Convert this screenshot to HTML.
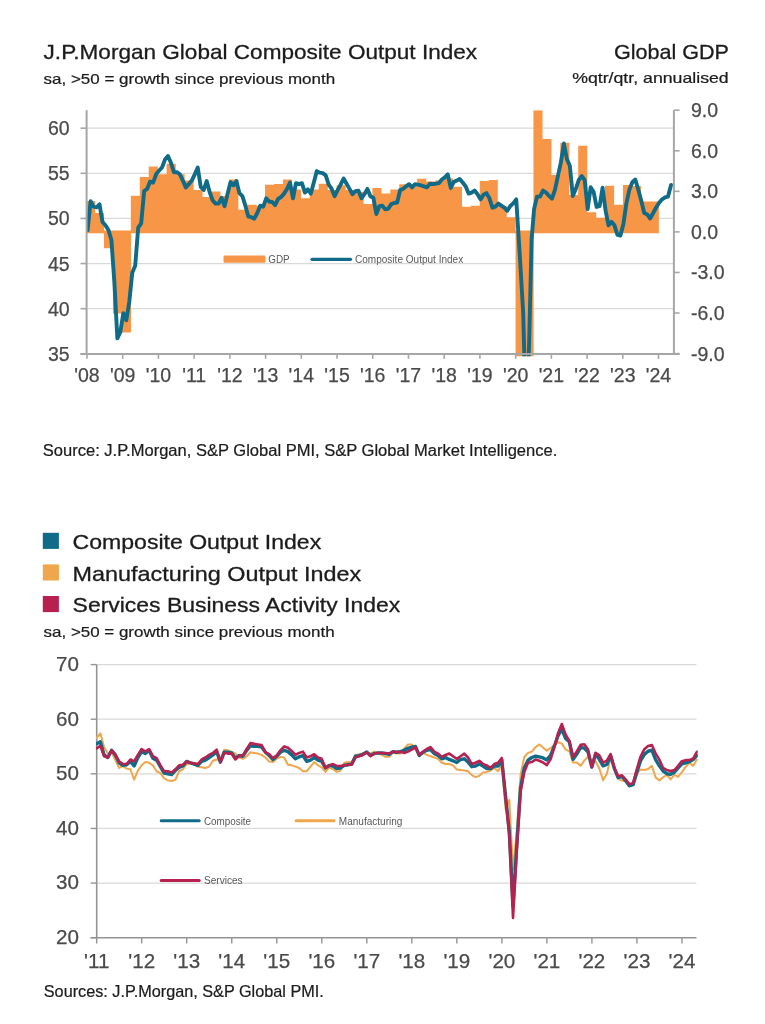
<!DOCTYPE html>
<html><head><meta charset="utf-8"><title>J.P.Morgan Global Composite Output Index</title>
<style>
html,body{margin:0;padding:0;background:#fff;}
body{width:765px;height:1024px;overflow:hidden;}
svg{display:block;filter:blur(0.4px);font-family:"Liberation Sans",Arial,sans-serif;}
</style></head><body>
<svg width="765" height="1024" viewBox="0 0 765 1024">
<rect width="765" height="1024" fill="#fff"/>
<text x="43.6" y="59.2" font-size="21" fill="#1c1c1c" text-anchor="start" textLength="433.5" lengthAdjust="spacingAndGlyphs" stroke="#1c1c1c" stroke-width="0.3">J.P.Morgan Global Composite Output Index</text>
<text x="43.6" y="83.6" font-size="15" fill="#1c1c1c" text-anchor="start" textLength="291.5" lengthAdjust="spacingAndGlyphs" stroke="#1c1c1c" stroke-width="0.22">sa, &gt;50 = growth since previous month</text>
<text x="613.9" y="59.2" font-size="21" fill="#1c1c1c" text-anchor="start" textLength="115" lengthAdjust="spacingAndGlyphs" stroke="#1c1c1c" stroke-width="0.3">Global GDP</text>
<text x="572.2" y="83.4" font-size="15" fill="#1c1c1c" text-anchor="start" textLength="156.5" lengthAdjust="spacingAndGlyphs" stroke="#1c1c1c" stroke-width="0.22">%qtr/qtr, annualised</text>
<text x="42.8" y="455.9" font-size="15.8" fill="#1c1c1c" text-anchor="start" textLength="514.5" lengthAdjust="spacingAndGlyphs" stroke="#1c1c1c" stroke-width="0.22">Source: J.P.Morgan, S&amp;P Global PMI, S&amp;P Global Market Intelligence.</text>
<rect x="42.8" y="532.8" width="16.1" height="16.1" fill="#0f6b88"/>
<text x="72.6" y="549.2" font-size="20.4" fill="#1c1c1c" text-anchor="start" textLength="248.6" lengthAdjust="spacingAndGlyphs" stroke="#1c1c1c" stroke-width="0.3">Composite Output Index</text>
<rect x="42.8" y="564.4" width="16.1" height="16.1" fill="#f0a64a"/>
<text x="72.6" y="580.7" font-size="20.4" fill="#1c1c1c" text-anchor="start" textLength="288.6" lengthAdjust="spacingAndGlyphs" stroke="#1c1c1c" stroke-width="0.3">Manufacturing Output Index</text>
<rect x="42.8" y="596" width="16.1" height="16.1" fill="#b8204f"/>
<text x="72.6" y="612.2" font-size="20.4" fill="#1c1c1c" text-anchor="start" textLength="327.6" lengthAdjust="spacingAndGlyphs" stroke="#1c1c1c" stroke-width="0.3">Services Business Activity Index</text>
<text x="43.6" y="636.6" font-size="15" fill="#1c1c1c" text-anchor="start" textLength="291" lengthAdjust="spacingAndGlyphs" stroke="#1c1c1c" stroke-width="0.22">sa, &gt;50 = growth since previous month</text>
<text x="43.8" y="996.6" font-size="16.1" fill="#1c1c1c" text-anchor="start" textLength="280" lengthAdjust="spacingAndGlyphs" stroke="#1c1c1c" stroke-width="0.22">Sources: J.P.Morgan, S&amp;P Global PMI.</text>
<defs><clipPath id="ct"><rect x="86.6" y="110.2" width="587.3" height="246"/></clipPath>
<clipPath id="cb"><rect x="96" y="662.6" width="601.8" height="275.1"/></clipPath></defs>
<line x1="86.6" y1="128.2" x2="673.9" y2="128.2" stroke="#d9d9d9" stroke-width="1.3"/>
<line x1="86.6" y1="173.32" x2="673.9" y2="173.32" stroke="#d9d9d9" stroke-width="1.3"/>
<line x1="86.6" y1="218.44" x2="673.9" y2="218.44" stroke="#d9d9d9" stroke-width="1.3"/>
<line x1="86.6" y1="263.56" x2="673.9" y2="263.56" stroke="#d9d9d9" stroke-width="1.3"/>
<line x1="86.6" y1="308.68" x2="673.9" y2="308.68" stroke="#d9d9d9" stroke-width="1.3"/>
<g clip-path="url(#ct)"><path d="M86.1 201.1H95.2V233.3H86.1ZM95.05 212.9H104.14V233.3H95.05ZM103.99 230.6H113.09V248.3H103.99ZM112.94 230.6H122.04V313.6H112.94ZM121.89 230.6H130.98V332.4H121.89ZM130.83 195.7H139.93V233.3H130.83ZM139.78 176.9H148.88V233.3H139.78ZM148.73 166.4H157.83V233.3H148.73ZM157.68 174.3H166.77V233.3H157.68ZM166.62 163.8H175.72V233.3H166.62ZM175.57 174.3H184.67V233.3H175.57ZM184.52 180.6H193.61V233.3H184.52ZM193.46 190H202.56V233.3H193.46ZM202.41 197H211.51V233.3H202.41ZM211.36 191.5H220.45V233.3H211.36ZM220.3 196H229.4V233.3H220.3ZM229.25 179.5H238.35V233.3H229.25ZM238.2 209.8H247.3V233.3H238.2ZM247.15 204.8H256.24V233.3H247.15ZM256.09 205.6H265.19V233.3H256.09ZM265.04 184.7H274.14V233.3H265.04ZM273.99 183.9H283.08V233.3H273.99ZM282.93 179.5H292.03V233.3H282.93ZM291.88 189.4H300.98V233.3H291.88ZM300.83 198.3H309.92V233.3H300.83ZM309.77 189.4H318.87V233.3H309.77ZM318.72 183.7H327.82V233.3H318.72ZM327.67 190H336.77V233.3H327.67ZM336.62 185.3H345.71V233.3H336.62ZM345.56 190H354.66V233.3H345.56ZM354.51 192H363.61V233.3H354.51ZM363.46 204.1H372.55V233.3H363.46ZM372.4 187.9H381.5V233.3H372.4ZM381.35 193.6H390.45V233.3H381.35ZM390.3 189.4H399.39V233.3H390.3ZM399.25 184.2H408.34V233.3H399.25ZM408.19 184.7H417.29V233.3H408.19ZM417.14 178.7H426.24V233.3H417.14ZM426.09 181.6H435.18V233.3H426.09ZM435.03 180.6H444.13V233.3H435.03ZM443.98 178.5H453.08V233.3H443.98ZM452.93 186.8H462.02V233.3H452.93ZM461.87 206.7H470.97V233.3H461.87ZM470.82 205.7H479.92V233.3H470.82ZM479.77 181.1H488.86V233.3H479.77ZM488.71 180H497.81V233.3H488.71ZM497.66 206H506.76V233.3H497.66ZM506.61 217.2H515.71V233.3H506.61ZM515.56 230.6H524.65V360H515.56ZM524.5 230.6H533.6V360H524.5ZM533.45 110.2H542.55V233.3H533.45ZM542.4 138.9H551.49V233.3H542.4ZM551.34 175.1H560.44V233.3H551.34ZM560.29 142.8H569.39V233.3H560.29ZM569.24 195H578.33V233.3H569.24ZM578.18 145.8H587.28V233.3H578.18ZM587.13 212.3H596.23V233.3H587.13ZM596.08 217.8H605.18V233.3H596.08ZM605.03 185.7H614.12V233.3H605.03ZM613.97 204.8H623.07V233.3H613.97ZM622.92 185H632.02V233.3H622.92ZM631.87 186H640.96V233.3H631.87ZM640.81 201.4H649.91V233.3H640.81ZM649.76 201.4H658.86V233.3H649.76Z" fill="#f79646"/>
<polyline points="87.6,230.2 90.58,201.1 93.55,206.7 96.53,207.3 99.51,204.4 102.48,222 105.46,225.3 108.44,230 111.41,240 114.39,282.5 117.37,338.3 120.34,332 123.32,313.1 126.3,320.3 129.27,302 132.25,272.7 135.23,265.4 138.2,227.6 141.18,223.4 144.16,191 147.13,188.9 150.11,181.6 153.09,182.6 156.06,174.3 159.04,170.6 162.02,167.5 164.99,159.6 167.97,156 170.95,162.8 173.92,172.2 176.9,172.2 179.88,174.3 182.85,180.6 185.83,187.4 188.81,184.2 191.78,180.6 194.76,174.3 197.74,167.5 200.71,186.8 203.69,190 206.67,181 209.64,192 212.62,200.4 215.6,203.6 218.57,203.6 221.55,197.8 224.53,206.2 227.5,194.2 230.48,182.1 233.46,185.3 236.43,181.1 239.41,193.1 242.39,196.2 245.36,205.7 248.34,216.6 251.32,217.2 254.29,218.7 257.27,213 260.25,205.7 263.22,206.7 266.2,198.3 269.18,201.5 272.15,202 275.13,205.1 278.11,198.9 281.08,197 284.06,193.6 287.04,188.9 290.01,182.6 292.99,198.3 295.97,183.2 298.94,184.2 301.92,183.2 304.9,192.6 307.87,189.4 310.85,193.6 313.83,182.6 316.8,171.1 319.78,172.7 322.76,173.2 325.73,175.3 328.71,184.7 331.69,188.9 334.66,196.2 337.64,190 340.62,184.7 343.59,178.5 346.57,183.7 349.55,188.9 352.52,194.2 355.5,191.2 358.48,190.7 361.45,198.3 364.43,194.2 367.41,188.9 370.38,196.2 373.36,197.8 376.34,214 379.31,206.2 382.29,205.7 385.27,209.3 388.24,208.8 391.22,204.1 394.2,203 397.17,202.5 400.15,190 403.13,188.9 406.1,186.3 409.08,184.2 412.06,187.4 415.03,184.2 418.01,184.7 420.99,185.3 423.96,186.3 426.94,187.4 429.92,183.7 432.89,184 435.87,183.7 438.85,183.2 441.82,179.5 444.8,177.4 447.78,174.3 450.75,187.9 453.73,182.1 456.71,180.6 459.68,179 462.66,182.6 465.64,186.3 468.61,193.6 471.59,192.6 474.57,190.5 477.54,194.2 480.52,199.4 483.5,194.7 486.47,193.1 489.45,198.3 492.43,207.7 495.4,206.7 498.38,203.6 501.36,205.7 504.33,207.7 507.31,210.8 510.29,206 513.26,203.4 516.24,199.3 519.72,254 523.19,313 526.37,433 529.15,342 531.62,239 534.1,208.9 537.08,196.6 540.05,196.6 543.03,190.5 546.01,192.5 548.98,195.9 551.96,198.7 554.94,189.8 557.91,176.1 560.89,162.4 563.87,143.5 566.84,159 569.82,165.8 572.8,196 575.77,189 578.75,180 581.73,176.1 584.7,180 587.68,209 590.66,187.2 593.63,192 596.61,206.9 599.59,206.2 602.56,187.7 605.54,210.3 608.52,225.3 611.49,221.9 614.47,225.3 617.45,234.9 620.42,235.6 623.4,223.9 626.38,203.4 629.35,189.8 632.33,182.2 635.31,179.5 638.28,189.8 641.26,200.7 644.24,213 647.21,214.4 650.19,218.5 653.17,213 656.14,207.5 659.12,202.8 662.1,199.3 665.07,197.3 668.05,196.6 671.03,185" fill="none" stroke="#0f6b88" stroke-width="3.9" stroke-linejoin="round" stroke-linecap="round"/></g>
<line x1="86.6" y1="110.2" x2="86.6" y2="353.9" stroke="#a6a6a6" stroke-width="2"/>
<line x1="673.9" y1="110.2" x2="673.9" y2="353.9" stroke="#a6a6a6" stroke-width="2"/>
<line x1="80.5" y1="353.9" x2="679.6" y2="353.9" stroke="#a6a6a6" stroke-width="2"/>
<line x1="80.5" y1="128.2" x2="86.6" y2="128.2" stroke="#a6a6a6" stroke-width="1.6"/>
<text x="69.6" y="135.2" font-size="19.5" fill="#4a4a4a" text-anchor="end" stroke="#4a4a4a" stroke-width="0.25">60</text>
<line x1="80.5" y1="173.32" x2="86.6" y2="173.32" stroke="#a6a6a6" stroke-width="1.6"/>
<text x="69.6" y="180.32" font-size="19.5" fill="#4a4a4a" text-anchor="end" stroke="#4a4a4a" stroke-width="0.25">55</text>
<line x1="80.5" y1="218.44" x2="86.6" y2="218.44" stroke="#a6a6a6" stroke-width="1.6"/>
<text x="69.6" y="225.44" font-size="19.5" fill="#4a4a4a" text-anchor="end" stroke="#4a4a4a" stroke-width="0.25">50</text>
<line x1="80.5" y1="263.56" x2="86.6" y2="263.56" stroke="#a6a6a6" stroke-width="1.6"/>
<text x="69.6" y="270.56" font-size="19.5" fill="#4a4a4a" text-anchor="end" stroke="#4a4a4a" stroke-width="0.25">45</text>
<line x1="80.5" y1="308.68" x2="86.6" y2="308.68" stroke="#a6a6a6" stroke-width="1.6"/>
<text x="69.6" y="315.68" font-size="19.5" fill="#4a4a4a" text-anchor="end" stroke="#4a4a4a" stroke-width="0.25">40</text>
<line x1="80.5" y1="353.8" x2="86.6" y2="353.8" stroke="#a6a6a6" stroke-width="1.6"/>
<text x="69.6" y="360.8" font-size="19.5" fill="#4a4a4a" text-anchor="end" stroke="#4a4a4a" stroke-width="0.25">35</text>
<line x1="673.9" y1="110.22" x2="679.6" y2="110.22" stroke="#a6a6a6" stroke-width="1.6"/>
<text x="691" y="117.22" font-size="19.5" fill="#4a4a4a" text-anchor="start" stroke="#4a4a4a" stroke-width="0.25">9.0</text>
<line x1="673.9" y1="150.78" x2="679.6" y2="150.78" stroke="#a6a6a6" stroke-width="1.6"/>
<text x="691" y="157.78" font-size="19.5" fill="#4a4a4a" text-anchor="start" stroke="#4a4a4a" stroke-width="0.25">6.0</text>
<line x1="673.9" y1="191.34" x2="679.6" y2="191.34" stroke="#a6a6a6" stroke-width="1.6"/>
<text x="691" y="198.34" font-size="19.5" fill="#4a4a4a" text-anchor="start" stroke="#4a4a4a" stroke-width="0.25">3.0</text>
<line x1="673.9" y1="231.9" x2="679.6" y2="231.9" stroke="#a6a6a6" stroke-width="1.6"/>
<text x="691" y="238.9" font-size="19.5" fill="#4a4a4a" text-anchor="start" stroke="#4a4a4a" stroke-width="0.25">0.0</text>
<line x1="673.9" y1="272.46" x2="679.6" y2="272.46" stroke="#a6a6a6" stroke-width="1.6"/>
<text x="691" y="279.46" font-size="19.5" fill="#4a4a4a" text-anchor="start" stroke="#4a4a4a" stroke-width="0.25">-3.0</text>
<line x1="673.9" y1="313.02" x2="679.6" y2="313.02" stroke="#a6a6a6" stroke-width="1.6"/>
<text x="691" y="320.02" font-size="19.5" fill="#4a4a4a" text-anchor="start" stroke="#4a4a4a" stroke-width="0.25">-6.0</text>
<line x1="673.9" y1="353.58" x2="679.6" y2="353.58" stroke="#a6a6a6" stroke-width="1.6"/>
<text x="691" y="360.58" font-size="19.5" fill="#4a4a4a" text-anchor="start" stroke="#4a4a4a" stroke-width="0.25">-9.0</text>
<line x1="87" y1="353.9" x2="87" y2="358.8" stroke="#a6a6a6" stroke-width="1.6"/>
<text x="87" y="381.5" font-size="19.5" fill="#4a4a4a" text-anchor="middle" stroke="#4a4a4a" stroke-width="0.25">'08</text>
<line x1="122.72" y1="353.9" x2="122.72" y2="358.8" stroke="#a6a6a6" stroke-width="1.6"/>
<text x="122.72" y="381.5" font-size="19.5" fill="#4a4a4a" text-anchor="middle" stroke="#4a4a4a" stroke-width="0.25">'09</text>
<line x1="158.44" y1="353.9" x2="158.44" y2="358.8" stroke="#a6a6a6" stroke-width="1.6"/>
<text x="158.44" y="381.5" font-size="19.5" fill="#4a4a4a" text-anchor="middle" stroke="#4a4a4a" stroke-width="0.25">'10</text>
<line x1="194.16" y1="353.9" x2="194.16" y2="358.8" stroke="#a6a6a6" stroke-width="1.6"/>
<text x="194.16" y="381.5" font-size="19.5" fill="#4a4a4a" text-anchor="middle" stroke="#4a4a4a" stroke-width="0.25">'11</text>
<line x1="229.88" y1="353.9" x2="229.88" y2="358.8" stroke="#a6a6a6" stroke-width="1.6"/>
<text x="229.88" y="381.5" font-size="19.5" fill="#4a4a4a" text-anchor="middle" stroke="#4a4a4a" stroke-width="0.25">'12</text>
<line x1="265.6" y1="353.9" x2="265.6" y2="358.8" stroke="#a6a6a6" stroke-width="1.6"/>
<text x="265.6" y="381.5" font-size="19.5" fill="#4a4a4a" text-anchor="middle" stroke="#4a4a4a" stroke-width="0.25">'13</text>
<line x1="301.32" y1="353.9" x2="301.32" y2="358.8" stroke="#a6a6a6" stroke-width="1.6"/>
<text x="301.32" y="381.5" font-size="19.5" fill="#4a4a4a" text-anchor="middle" stroke="#4a4a4a" stroke-width="0.25">'14</text>
<line x1="337.04" y1="353.9" x2="337.04" y2="358.8" stroke="#a6a6a6" stroke-width="1.6"/>
<text x="337.04" y="381.5" font-size="19.5" fill="#4a4a4a" text-anchor="middle" stroke="#4a4a4a" stroke-width="0.25">'15</text>
<line x1="372.76" y1="353.9" x2="372.76" y2="358.8" stroke="#a6a6a6" stroke-width="1.6"/>
<text x="372.76" y="381.5" font-size="19.5" fill="#4a4a4a" text-anchor="middle" stroke="#4a4a4a" stroke-width="0.25">'16</text>
<line x1="408.48" y1="353.9" x2="408.48" y2="358.8" stroke="#a6a6a6" stroke-width="1.6"/>
<text x="408.48" y="381.5" font-size="19.5" fill="#4a4a4a" text-anchor="middle" stroke="#4a4a4a" stroke-width="0.25">'17</text>
<line x1="444.2" y1="353.9" x2="444.2" y2="358.8" stroke="#a6a6a6" stroke-width="1.6"/>
<text x="444.2" y="381.5" font-size="19.5" fill="#4a4a4a" text-anchor="middle" stroke="#4a4a4a" stroke-width="0.25">'18</text>
<line x1="479.92" y1="353.9" x2="479.92" y2="358.8" stroke="#a6a6a6" stroke-width="1.6"/>
<text x="479.92" y="381.5" font-size="19.5" fill="#4a4a4a" text-anchor="middle" stroke="#4a4a4a" stroke-width="0.25">'19</text>
<line x1="515.64" y1="353.9" x2="515.64" y2="358.8" stroke="#a6a6a6" stroke-width="1.6"/>
<text x="515.64" y="381.5" font-size="19.5" fill="#4a4a4a" text-anchor="middle" stroke="#4a4a4a" stroke-width="0.25">'20</text>
<line x1="551.36" y1="353.9" x2="551.36" y2="358.8" stroke="#a6a6a6" stroke-width="1.6"/>
<text x="551.36" y="381.5" font-size="19.5" fill="#4a4a4a" text-anchor="middle" stroke="#4a4a4a" stroke-width="0.25">'21</text>
<line x1="587.08" y1="353.9" x2="587.08" y2="358.8" stroke="#a6a6a6" stroke-width="1.6"/>
<text x="587.08" y="381.5" font-size="19.5" fill="#4a4a4a" text-anchor="middle" stroke="#4a4a4a" stroke-width="0.25">'22</text>
<line x1="622.8" y1="353.9" x2="622.8" y2="358.8" stroke="#a6a6a6" stroke-width="1.6"/>
<text x="622.8" y="381.5" font-size="19.5" fill="#4a4a4a" text-anchor="middle" stroke="#4a4a4a" stroke-width="0.25">'23</text>
<line x1="658.52" y1="353.9" x2="658.52" y2="358.8" stroke="#a6a6a6" stroke-width="1.6"/>
<text x="658.52" y="381.5" font-size="19.5" fill="#4a4a4a" text-anchor="middle" stroke="#4a4a4a" stroke-width="0.25">'24</text>
<rect x="223.5" y="255.6" width="42" height="7.1" rx="1.2" fill="#f79646"/>
<text x="268.3" y="262.8" font-size="10" fill="#595959" text-anchor="start" textLength="21.4" lengthAdjust="spacingAndGlyphs">GDP</text>
<line x1="312" y1="259.3" x2="350.5" y2="259.3" stroke="#0f6b88" stroke-width="3.2" stroke-linecap="round"/>
<text x="355" y="262.8" font-size="10" fill="#595959" text-anchor="start" textLength="108.2" lengthAdjust="spacingAndGlyphs">Composite Output Index</text>
<line x1="96.7" y1="664.6" x2="696.5" y2="664.6" stroke="#d9d9d9" stroke-width="1.3"/>
<line x1="96.7" y1="719.22" x2="696.5" y2="719.22" stroke="#d9d9d9" stroke-width="1.3"/>
<line x1="96.7" y1="773.84" x2="696.5" y2="773.84" stroke="#d9d9d9" stroke-width="1.3"/>
<line x1="96.7" y1="828.46" x2="696.5" y2="828.46" stroke="#d9d9d9" stroke-width="1.3"/>
<line x1="96.7" y1="883.08" x2="696.5" y2="883.08" stroke="#d9d9d9" stroke-width="1.3"/>
<line x1="96.7" y1="664.6" x2="96.7" y2="937.7" stroke="#949494" stroke-width="1.6"/>
<g clip-path="url(#cb)">
<polyline points="96.6,737.91 100.35,733.33 104.1,747.06 107.85,753.59 111.61,752.29 115.36,760.13 119.11,767.97 122.86,766.01 126.61,768.63 130.37,769.28 134.12,779.74 137.87,770.59 141.62,765.36 145.37,762.09 149.12,762.75 152.88,765.36 156.63,771.24 160.38,773.2 164.13,778.43 167.88,780.39 171.63,781.05 175.38,779.74 179.14,771.24 182.89,769.28 186.64,764.05 190.39,764.05 194.14,764.05 197.9,766.67 201.65,767.32 205.4,767.97 209.15,766.67 212.9,760.78 216.65,759.48 220.41,760.13 224.16,749.67 227.91,750.33 231.66,751.63 235.41,753.59 239.16,757.52 242.92,758.82 246.67,756.21 250.42,752.29 254.17,752.94 257.92,753.59 261.67,754.9 265.43,757.52 269.18,761.44 272.93,762.09 276.68,758.82 280.43,756.86 284.18,757.52 287.94,764.71 291.69,765.36 295.44,766.67 299.19,767.97 302.94,771.24 306.69,771.24 310.45,766.67 314.2,762.09 317.95,765.36 321.7,767.32 325.45,771.9 329.2,767.32 332.96,769.28 336.71,771.9 340.46,770.59 344.21,762.75 347.96,762.09 351.71,762.75 355.47,754.9 359.22,754.25 362.97,753.33 366.72,752.29 370.47,753.59 374.22,751.63 377.98,752.94 381.73,754.9 385.48,756.86 389.23,756.86 392.98,752.29 396.73,753.59 400.49,753.59 404.24,748.37 407.99,744.44 411.74,744.44 415.49,749.02 419.24,755.56 423,752.94 426.75,754.9 430.5,756.21 434.25,757.52 438,758.82 441.75,762.75 445.5,764.05 449.26,764.05 453.01,765.36 456.76,769.54 460.51,769.93 464.26,770.59 468.01,771.24 471.77,775.16 475.52,777.12 479.27,775.82 483.02,772.55 486.77,771.9 490.52,770.59 494.28,767.97 498.03,771.24 501.78,765 505.53,809 509.28,800 513.03,870 516.79,830 520.54,775 524.29,757 528.04,752.94 531.79,751.63 535.54,747.06 539.3,744.44 543.05,747.52 546.8,750.78 550.55,748.17 554.3,744.9 558.05,742.29 561.81,743.59 565.56,749.48 569.31,751.44 573.06,762.55 576.81,762.55 580.57,765.82 584.32,760.59 588.07,756.67 591.82,762.55 595.57,761.24 599.32,768.43 603.08,780.2 606.83,773.66 610.58,757.97 614.33,768.43 618.08,778.89 621.83,780.52 625.59,781.57 629.34,785.75 633.09,782.61 636.84,773.2 640.59,769.54 644.34,770.07 648.1,769.02 651.85,765.88 655.6,777.39 659.35,780.52 663.1,777.39 666.85,774.77 670.61,779.48 674.36,774.77 678.11,776.86 681.86,772.16 685.61,766.93 689.36,762.75 693.12,765.88 696.87,759.61" fill="none" stroke="#f0a64a" stroke-width="2.0" stroke-linejoin="round" stroke-linecap="round"/>
<polyline points="96.6,743.79 100.35,741.83 104.1,754.9 107.85,757.52 111.61,750.33 115.36,754.9 119.11,762.75 122.86,765.36 126.61,764.71 130.37,761.44 134.12,766.01 137.87,757.52 141.62,751.63 145.37,753.59 149.12,750.33 152.88,758.17 156.63,760.13 160.38,766.67 164.13,773.2 167.88,773.86 171.63,774.51 175.38,770.59 179.14,767.32 182.89,766.01 186.64,761.44 190.39,762.75 194.14,764.05 197.9,765.36 201.65,761.44 205.4,760.13 209.15,757.52 212.9,754.9 216.65,751.63 220.41,762.09 224.16,752.29 227.91,752.29 231.66,752.94 235.41,758.17 239.16,755.56 242.92,756.21 246.67,750.33 250.42,745.75 254.17,746.41 257.92,746.41 261.67,747.06 265.43,752.29 269.18,755.56 272.93,759.48 276.68,756.21 280.43,752.29 284.18,750.33 287.94,751.63 291.69,754.9 295.44,758.82 299.19,756.86 302.94,755.56 306.69,761.44 310.45,760.13 314.2,757.52 317.95,760.13 321.7,761.44 325.45,767.97 329.2,765.36 332.96,766.01 336.71,768.63 340.46,767.97 344.21,765.36 347.96,764.71 351.71,764.05 355.47,756.21 359.22,755.56 362.97,754.25 366.72,752.03 370.47,755.56 374.22,753.59 377.98,752.94 381.73,752.94 385.48,753.59 389.23,754.25 392.98,751.63 396.73,752.29 400.49,751.63 404.24,750.33 407.99,748.37 411.74,747.06 415.49,746.41 419.24,755.56 423,752.29 426.75,750.33 430.5,749.67 434.25,753.59 438,755.56 441.75,758.82 445.5,757.52 449.26,759.48 453.01,760.78 456.76,762.48 460.51,759.48 464.26,758.82 468.01,762.09 471.77,766.67 475.52,766.01 479.27,764.05 483.02,766.01 486.77,768.63 490.52,768.63 494.28,766.01 498.03,766.01 501.78,760 505.53,796 509.28,832 513.03,906 516.79,845 520.54,788 524.29,768 528.04,760.13 531.79,757.52 535.54,756.21 539.3,756.86 543.05,757.97 546.8,759.93 550.55,755.36 554.3,746.21 558.05,735.75 561.81,729.22 565.56,738.37 569.31,741.63 573.06,759.28 576.81,754.05 580.57,747.52 584.32,748.17 588.07,752.09 591.82,767.12 595.57,754.05 599.32,759.28 603.08,765.82 606.83,764.51 610.58,755.36 614.33,768.43 618.08,777.58 621.83,776.34 625.59,780.52 629.34,785.75 633.09,784.71 636.84,772.16 640.59,760.65 644.34,754.38 648.1,751.24 651.85,750.2 655.6,759.61 659.35,765.88 663.1,771.11 666.85,773.73 670.61,774.25 674.36,772.16 678.11,767.97 681.86,763.79 685.61,762.75 689.36,761.7 693.12,759.61 696.87,755.42" fill="none" stroke="#0f6b88" stroke-width="3.4" stroke-linejoin="round" stroke-linecap="round"/>
<polyline points="96.6,748.37 100.35,745.75 104.1,756.21 107.85,757.52 111.61,750.33 115.36,754.9 119.11,761.44 122.86,764.05 126.61,764.05 130.37,759.48 134.12,761.44 137.87,754.9 141.62,749.02 145.37,751.63 149.12,749.02 152.88,756.21 156.63,758.17 160.38,765.36 164.13,771.24 167.88,771.24 171.63,772.55 175.38,769.28 179.14,765.36 182.89,764.71 186.64,761.44 190.39,762.75 194.14,763.4 197.9,764.05 201.65,759.48 205.4,757.52 209.15,754.9 212.9,752.94 216.65,749.67 220.41,762.09 224.16,752.94 227.91,753.59 231.66,753.59 235.41,759.48 239.16,755.56 242.92,755.56 246.67,749.02 250.42,743.14 254.17,743.79 257.92,744.44 261.67,745.1 265.43,752.29 269.18,754.25 272.93,758.17 276.68,755.56 280.43,750.33 284.18,746.41 287.94,747.71 291.69,750.98 295.44,754.9 299.19,752.94 302.94,751.63 306.69,757.52 310.45,756.21 314.2,754.25 317.95,757.52 321.7,758.82 325.45,767.97 329.2,765.36 332.96,764.05 336.71,766.01 340.46,766.01 344.21,765.36 347.96,764.71 351.71,764.71 355.47,757.52 359.22,756.21 362.97,754.9 366.72,752.29 370.47,756.21 374.22,753.59 377.98,752.94 381.73,752.94 385.48,752.94 389.23,753.59 392.98,751.63 396.73,752.29 400.49,751.63 404.24,752.94 407.99,751.63 411.74,749.67 415.49,747.06 419.24,754.9 423,751.63 426.75,749.02 430.5,747.06 434.25,751.63 438,753.59 441.75,756.86 445.5,754.9 449.26,753.59 453.01,756.21 456.76,758.82 460.51,756.21 464.26,753.59 468.01,757.52 471.77,764.05 475.52,762.75 479.27,760.78 483.02,764.05 486.77,765.36 490.52,767.97 494.28,764.05 498.03,762.75 501.78,758 505.53,797 509.28,835 513.03,918 516.79,850 520.54,792 524.29,772 528.04,762.75 531.79,762.09 535.54,759.48 539.3,760.78 543.05,762.55 546.8,765.16 550.55,759.28 554.3,747.52 558.05,733.14 561.81,723.99 565.56,734.44 569.31,740.98 573.06,756.67 576.81,751.44 580.57,744.9 584.32,744.25 588.07,749.48 591.82,767.12 595.57,752.75 599.32,755.36 603.08,762.55 606.83,760.59 610.58,754.05 614.33,767.78 618.08,776.27 621.83,775.29 625.59,779.48 629.34,784.18 633.09,783.14 636.84,769.02 640.59,756.47 644.34,749.15 648.1,746.01 651.85,744.97 655.6,753.33 659.35,759.61 663.1,767.97 666.85,770.07 670.61,771.11 674.36,770.07 678.11,765.88 681.86,761.18 685.61,760.13 689.36,760.13 693.12,758.56 696.87,751.76" fill="none" stroke="#b8204f" stroke-width="2.6" stroke-linejoin="round" stroke-linecap="round"/>
</g>
<line x1="90.7" y1="937.7" x2="696.5" y2="937.7" stroke="#949494" stroke-width="1.6"/>
<line x1="90.7" y1="664.6" x2="96.7" y2="664.6" stroke="#949494" stroke-width="1.4"/>
<text x="79" y="671" font-size="20.6" fill="#4a4a4a" text-anchor="end" stroke="#4a4a4a" stroke-width="0.25">70</text>
<line x1="90.7" y1="719.22" x2="96.7" y2="719.22" stroke="#949494" stroke-width="1.4"/>
<text x="79" y="725.62" font-size="20.6" fill="#4a4a4a" text-anchor="end" stroke="#4a4a4a" stroke-width="0.25">60</text>
<line x1="90.7" y1="773.84" x2="96.7" y2="773.84" stroke="#949494" stroke-width="1.4"/>
<text x="79" y="780.24" font-size="20.6" fill="#4a4a4a" text-anchor="end" stroke="#4a4a4a" stroke-width="0.25">50</text>
<line x1="90.7" y1="828.46" x2="96.7" y2="828.46" stroke="#949494" stroke-width="1.4"/>
<text x="79" y="834.86" font-size="20.6" fill="#4a4a4a" text-anchor="end" stroke="#4a4a4a" stroke-width="0.25">40</text>
<line x1="90.7" y1="883.08" x2="96.7" y2="883.08" stroke="#949494" stroke-width="1.4"/>
<text x="79" y="889.48" font-size="20.6" fill="#4a4a4a" text-anchor="end" stroke="#4a4a4a" stroke-width="0.25">30</text>
<line x1="90.7" y1="937.7" x2="96.7" y2="937.7" stroke="#949494" stroke-width="1.4"/>
<text x="79" y="944.1" font-size="20.6" fill="#4a4a4a" text-anchor="end" stroke="#4a4a4a" stroke-width="0.25">20</text>
<line x1="96.7" y1="937.7" x2="96.7" y2="943.5" stroke="#949494" stroke-width="1.4"/>
<text x="96.7" y="968" font-size="20.6" fill="#4a4a4a" text-anchor="middle" stroke="#4a4a4a" stroke-width="0.25">'11</text>
<line x1="141.72" y1="937.7" x2="141.72" y2="943.5" stroke="#949494" stroke-width="1.4"/>
<text x="141.72" y="968" font-size="20.6" fill="#4a4a4a" text-anchor="middle" stroke="#4a4a4a" stroke-width="0.25">'12</text>
<line x1="186.74" y1="937.7" x2="186.74" y2="943.5" stroke="#949494" stroke-width="1.4"/>
<text x="186.74" y="968" font-size="20.6" fill="#4a4a4a" text-anchor="middle" stroke="#4a4a4a" stroke-width="0.25">'13</text>
<line x1="231.76" y1="937.7" x2="231.76" y2="943.5" stroke="#949494" stroke-width="1.4"/>
<text x="231.76" y="968" font-size="20.6" fill="#4a4a4a" text-anchor="middle" stroke="#4a4a4a" stroke-width="0.25">'14</text>
<line x1="276.78" y1="937.7" x2="276.78" y2="943.5" stroke="#949494" stroke-width="1.4"/>
<text x="276.78" y="968" font-size="20.6" fill="#4a4a4a" text-anchor="middle" stroke="#4a4a4a" stroke-width="0.25">'15</text>
<line x1="321.8" y1="937.7" x2="321.8" y2="943.5" stroke="#949494" stroke-width="1.4"/>
<text x="321.8" y="968" font-size="20.6" fill="#4a4a4a" text-anchor="middle" stroke="#4a4a4a" stroke-width="0.25">'16</text>
<line x1="366.82" y1="937.7" x2="366.82" y2="943.5" stroke="#949494" stroke-width="1.4"/>
<text x="366.82" y="968" font-size="20.6" fill="#4a4a4a" text-anchor="middle" stroke="#4a4a4a" stroke-width="0.25">'17</text>
<line x1="411.84" y1="937.7" x2="411.84" y2="943.5" stroke="#949494" stroke-width="1.4"/>
<text x="411.84" y="968" font-size="20.6" fill="#4a4a4a" text-anchor="middle" stroke="#4a4a4a" stroke-width="0.25">'18</text>
<line x1="456.86" y1="937.7" x2="456.86" y2="943.5" stroke="#949494" stroke-width="1.4"/>
<text x="456.86" y="968" font-size="20.6" fill="#4a4a4a" text-anchor="middle" stroke="#4a4a4a" stroke-width="0.25">'19</text>
<line x1="501.88" y1="937.7" x2="501.88" y2="943.5" stroke="#949494" stroke-width="1.4"/>
<text x="501.88" y="968" font-size="20.6" fill="#4a4a4a" text-anchor="middle" stroke="#4a4a4a" stroke-width="0.25">'20</text>
<line x1="546.9" y1="937.7" x2="546.9" y2="943.5" stroke="#949494" stroke-width="1.4"/>
<text x="546.9" y="968" font-size="20.6" fill="#4a4a4a" text-anchor="middle" stroke="#4a4a4a" stroke-width="0.25">'21</text>
<line x1="591.92" y1="937.7" x2="591.92" y2="943.5" stroke="#949494" stroke-width="1.4"/>
<text x="591.92" y="968" font-size="20.6" fill="#4a4a4a" text-anchor="middle" stroke="#4a4a4a" stroke-width="0.25">'22</text>
<line x1="636.94" y1="937.7" x2="636.94" y2="943.5" stroke="#949494" stroke-width="1.4"/>
<text x="636.94" y="968" font-size="20.6" fill="#4a4a4a" text-anchor="middle" stroke="#4a4a4a" stroke-width="0.25">'23</text>
<line x1="681.96" y1="937.7" x2="681.96" y2="943.5" stroke="#949494" stroke-width="1.4"/>
<text x="681.96" y="968" font-size="20.6" fill="#4a4a4a" text-anchor="middle" stroke="#4a4a4a" stroke-width="0.25">'24</text>
<line x1="161.2" y1="820.8" x2="199.2" y2="820.8" stroke="#0f6b88" stroke-width="3" stroke-linecap="round"/>
<text x="203.9" y="824.5" font-size="10" fill="#595959" text-anchor="start" textLength="47.2" lengthAdjust="spacingAndGlyphs">Composite</text>
<line x1="296.1" y1="820.8" x2="334" y2="820.8" stroke="#f0a64a" stroke-width="3" stroke-linecap="round"/>
<text x="338.8" y="824.5" font-size="10" fill="#595959" text-anchor="start" textLength="63.6" lengthAdjust="spacingAndGlyphs">Manufacturing</text>
<line x1="161.2" y1="880.6" x2="199.2" y2="880.6" stroke="#b8204f" stroke-width="3" stroke-linecap="round"/>
<text x="203.9" y="884.3" font-size="10" fill="#595959" text-anchor="start" textLength="38.8" lengthAdjust="spacingAndGlyphs">Services</text>
</svg>
</body></html>
